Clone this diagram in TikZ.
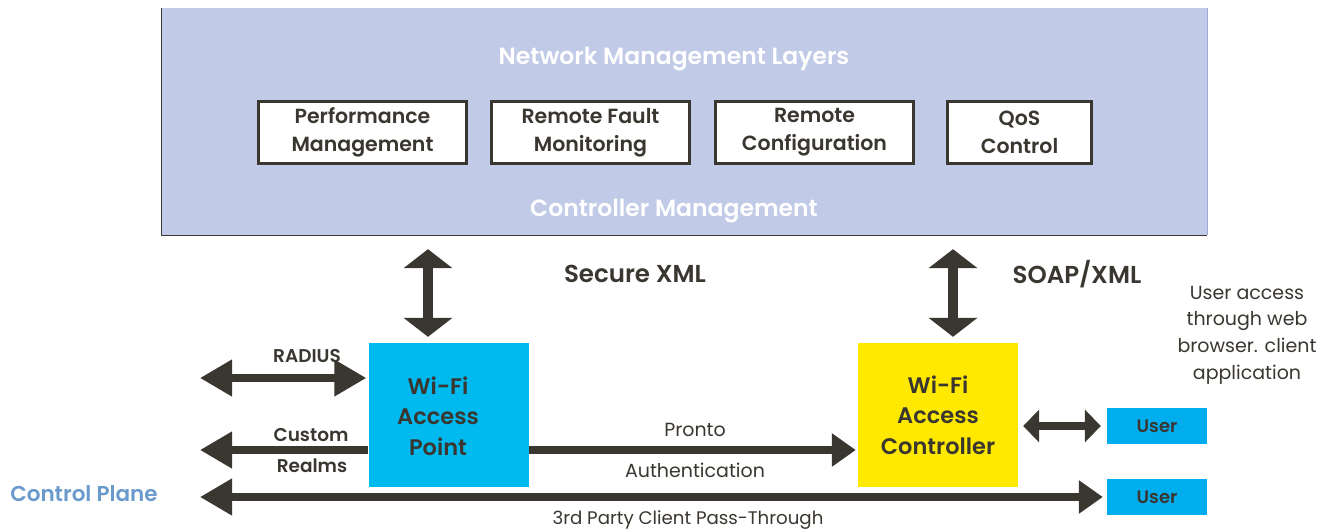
\documentclass[tikz,border=0pt]{standalone}
\usepackage{fontspec}
\setmainfont{Poppins}[BoldFont={Poppins SemiBold}]
\usetikzlibrary{arrows.meta}

\definecolor{panelblue}{HTML}{C1CAE6}
\definecolor{paneledge}{HTML}{9CAAD2}
\definecolor{ink}{HTML}{3A3630}
\definecolor{apcyan}{HTML}{00B9EE}
\definecolor{usercyan}{HTML}{00AEEF}
\definecolor{ctrlyellow}{HTML}{FFE900}
\definecolor{planeblue}{HTML}{6A9ACB}

\tikzset{
  panelbox/.style={fill=panelblue, inner sep=0pt, minimum width=1045, minimum height=227},
  paneltitle/.style={text=white, font=\bfseries\fontsize{23.5}{28}\selectfont},
  mgmtbox/.style={draw=ink, line width=3pt, fill=white, inner sep=0pt, minimum height=62,
    align=center, text=ink, font=\bfseries\fontsize{20.5}{28}\selectfont},
  unitbox/.style={inner sep=0pt, minimum width=159, minimum height=144, align=center,
    text=ink, font=\bfseries\fontsize{22.5}{30.5}\selectfont},
  userbox/.style={fill=usercyan, inner sep=0pt, minimum width=100, minimum height=36,
    text=ink, font=\bfseries\fontsize{18}{20}\selectfont},
  boldlabel/.style={text=ink, font=\bfseries\fontsize{24.5}{28}\selectfont},
  smallbold/.style={text=ink, font=\bfseries\fontsize{18.5}{22}\selectfont},
  plainlabel/.style={text=ink, font=\fontsize{19}{26.7}\selectfont, align=center},
  vhead/.tip={Triangle[length=19pt, width=48pt]},
  bighead/.tip={Triangle[length=32pt, width=35pt]},
  midhead/.tip={Triangle[length=24pt, width=32pt]},
  smallhead/.tip={Triangle[length=16pt, width=32pt]},
  vlink/.style={draw=ink, line width=10pt, vhead-vhead},
  hlink/.style={draw=ink, line width=7.5pt},
}

\begin{document}
\begin{tikzpicture}[x=1pt, y=-1pt]
\useasboundingbox (0,0) rectangle (1326,531);

% management panel
\node[panelbox] (panel) at (684.5,121.5) {};
\draw[ink, line width=1.3pt] (panel.north west) -- (panel.south west) -- (panel.south east);
\draw[paneledge, line width=1pt] (panel.north east) -- (panel.south east);
\node[paneltitle] (nml) at (674,59) {Network Management Layers};
\node[paneltitle] (cm) at (674,211) {Controller Management};

\node[mgmtbox, minimum width=208] (perf) at (362.5,132.5) {Performance\\Management};
\node[mgmtbox, minimum width=198] (fault) at (590.5,132.5) {Remote Fault\\Monitoring};
\node[mgmtbox, minimum width=198] (conf) at (814.5,132.5) {Remote\\Configuration};
\node[mgmtbox, minimum width=144] (qos) at (1019.5,132.5) {QoS\\Control};

% access point and controller
\node[unitbox, fill=apcyan, minimum width=160] (ap) at (448.5,415) {};
\node[text=ink, font=\bfseries\fontsize{22.5}{30.5}\selectfont, align=center] (aptext) at (438,416) {Wi-Fi\\Access\\Point};
\node[unitbox, fill=ctrlyellow, minimum width=160] (ctrl) at (938,415) {Wi-Fi\\Access\\Controller};

\node[userbox] (user1) at (1157,426) {User};
\node[userbox] (user2) at (1157,497) {User};

% links to the management panel
\draw[vlink, shorten <=6pt, shorten >=14pt] ([xshift=-20.5pt]ap.north) -- ([xshift=-20.5pt]ap.north |- panel.south);
\draw[vlink, shorten <=6pt, shorten >=14pt] ([xshift=15pt]ctrl.north) -- ([xshift=15pt]ctrl.north |- panel.south);
\node[boldlabel] (sxml) at (635,274) {Secure XML};
\node[boldlabel] (soap) at (1077,274) {SOAP/XML};

% left side links
\coordinate (radL) at (200,378);
\coordinate (realmL) at (200,450);
\coordinate (planeL) at (200,497);
\draw[hlink, bighead-bighead, shorten >=2pt] (radL) -- (ap.west |- radL);
\node[smallbold] (radius) at (307,356) {RADIUS};
\draw[hlink, -bighead] (ap.west |- realmL) -- (realmL);
\node[smallbold] (custom) at (311,435) {Custom};
\node[smallbold] (realms) at (312,466) {Realms};

% authentication link
\draw[hlink, -midhead, shorten >=2pt] (ap.east |- realmL) -- (ctrl.west |- realmL);
\node[plainlabel] (pronto) at (695,430) {Pronto};
\node[plainlabel] (auth) at (695,470) {Authentication};

% controller to user
\draw[hlink, smallhead-smallhead, shorten <=5pt, shorten >=6pt] (ctrl.east |- user1.west) -- (user1.west);

% pass-through
\draw[hlink, bighead-midhead, shorten >=4pt] (planeL) -- (user2.west);
\node[text=ink, font=\fontsize{18.2}{22}\selectfont] (pass) at (688,520) {3rd Party Client Pass-Through};
\node[text=planeblue, font=\bfseries\fontsize{21.5}{25}\selectfont] (plane) at (84,494) {Control Plane};

\node[plainlabel] (access) at (1247,335) {User access\\through web\\browser. client\\application};
\end{tikzpicture}
\end{document}
